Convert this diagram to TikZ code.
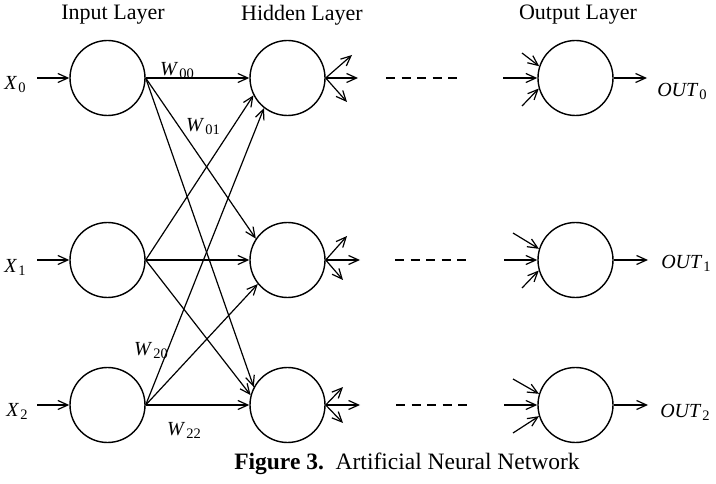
\documentclass[tikz,border=0pt]{standalone}
\usepackage{fontspec}
\setmainfont{Liberation Serif}
\usetikzlibrary{arrows.meta}
\newcommand{\symb}[2]{\textit{#1}\kern1pt\raisebox{-3pt}{\fontsize{14.5}{14.5}\selectfont #2}}
\begin{document}
\begin{tikzpicture}[x=1pt,y=-1pt,
  neuron/.style={circle,draw,line width=1.4pt,minimum size=75pt,inner sep=0pt},
  conn/.style={line width=1.2pt,-{Straight Barb[length=10pt,width=9pt,line width=1.2pt]}},
  dashline/.style={line width=1.2pt,dash pattern=on 9pt off 6.5pt},
  title/.style={font=\fontsize{22}{26}\selectfont},
  lbl/.style={font=\fontsize{20}{24}\selectfont,inner sep=0pt}]
\useasboundingbox (0,0) rectangle (716,484);

% titles
\node[title] (tin) at (113,15) {Input Layer};
\node[title] (thid) at (302,15) {Hidden Layer};
\node[title] (tout) at (578,15) {Output Layer};
\node[title,font=\fontsize{23.5}{27}\selectfont] (cap) at (407,464) {\textbf{Figure 3.}\ \ Artificial Neural Network};

% neurons
\node[neuron] (i0) at (107.5,78) {};
\node[neuron] (i1) at (107.5,260) {};
\node[neuron] (i2) at (107.5,405) {};
\node[neuron] (h0) at (287.5,78) {};
\node[neuron] (h1) at (287.5,260) {};
\node[neuron] (h2) at (287.5,405) {};
\node[neuron] (o0) at (575.5,78) {};
\node[neuron] (o1) at (575.5,260) {};
\node[neuron] (o2) at (575.5,405) {};

% inputs
\node[lbl] (x0) at (15,85) {\symb{X}{0}};
\node[lbl] (x1) at (15,267) {\symb{X}{1}};
\node[lbl] (x2) at (17,411) {\symb{X}{2}};
\coordinate (a0) at (37,78);
\coordinate (a1) at (37,260);
\coordinate (a2) at (37,405);
\draw[conn] (a0) -- (i0.west);
\draw[conn] (a1) -- (i1.west);
\draw[conn] (a2) -- (i2.west);

% input -> hidden
\draw[conn] (i0.east) -- (h0.west);
\draw[conn] (i0.east) -- (h1.146);
\draw[conn] (i0.east) -- (h2.152);
\draw[conn] (i1.east) -- (h0.207);
\draw[conn] (i1.east) -- (h1.west);
\draw[conn] (i1.east) -- (h2.165);
\draw[conn] (i2.east) -- (h0.232);
\draw[conn] (i2.east) -- (h1.219);
\draw[conn] (i2.east) -- (h2.west);

% weight labels
\node[lbl] (w00) at (177,71) {\symb{W}{00}};
\node[lbl] (w01) at (203,127) {\symb{W}{01}};
\node[lbl] (w20) at (151,351) {\symb{W}{20}};
\node[lbl] (w22) at (184,430) {\symb{W}{22}};

% hidden outputs
\coordinate (p0a) at (352,55);
\coordinate (p0b) at (358,78);
\coordinate (p0c) at (347,102);
\coordinate (p1a) at (347,236);
\coordinate (p1b) at (360,260);
\coordinate (p1c) at (343,280);
\coordinate (p2a) at (343,387);
\coordinate (p2b) at (360,405);
\coordinate (p2c) at (343,423);
\draw[conn] (h0.east) -- (p0a);
\draw[conn] (h0.east) -- (p0b);
\draw[conn] (h0.east) -- (p0c);
\draw[conn] (h1.east) -- (p1a);
\draw[conn] (h1.east) -- (p1b);
\draw[conn] (h1.east) -- (p1c);
\draw[conn] (h2.east) -- (p2a);
\draw[conn] (h2.east) -- (p2b);
\draw[conn] (h2.east) -- (p2c);

% dashes
\coordinate (d0a) at (386,78);  \coordinate (d0b) at (459,78);
\coordinate (d1a) at (395,260); \coordinate (d1b) at (468,260);
\coordinate (d2a) at (396,405); \coordinate (d2b) at (469,405);
\draw[dashline] (d0a) -- (d0b);
\draw[dashline] (d1a) -- (d1b);
\draw[dashline] (d2a) -- (d2b);

% output inputs
\coordinate (q0a) at (522,53);
\coordinate (q0b) at (503,78);
\coordinate (q0c) at (522,106);
\coordinate (q1a) at (513,233);
\coordinate (q1b) at (504,260);
\coordinate (q1c) at (522,288);
\coordinate (q2a) at (513,379);
\coordinate (q2b) at (504,405);
\coordinate (q2c) at (513,433);
\draw[conn] (q0a) -- (o0.162);
\draw[conn] (q0b) -- (o0.west);
\draw[conn] (q0c) -- (o0.196);
\draw[conn] (q1a) -- (o1.163);
\draw[conn] (q1b) -- (o1.west);
\draw[conn] (q1c) -- (o1.196);
\draw[conn] (q2a) -- (o2.163);
\draw[conn] (q2b) -- (o2.west);
\draw[conn] (q2c) -- (o2.197);

% outputs
\coordinate (r0) at (647,78);
\coordinate (r1) at (648,260);
\coordinate (r2) at (648,405);
\draw[conn] (o0.east) -- (r0);
\draw[conn] (o1.east) -- (r1);
\draw[conn] (o2.east) -- (r2);
\node[lbl] (out0) at (682,91) {\symb{OUT}{0}};
\node[lbl] (out1) at (686,263) {\symb{OUT}{1}};
\node[lbl] (out2) at (685,412) {\symb{OUT}{2}};
\end{tikzpicture}
\end{document}
